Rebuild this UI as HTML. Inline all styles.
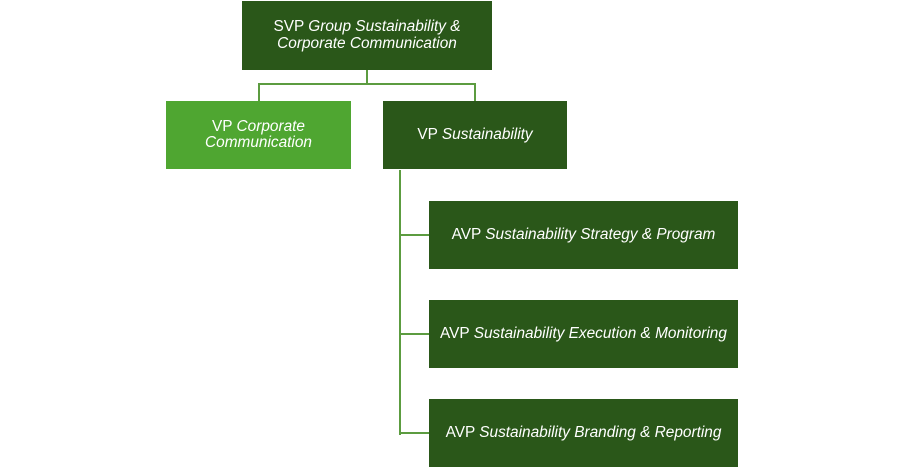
<!DOCTYPE html>
<html>
<head>
<meta charset="utf-8">
<style>
html,body{margin:0;padding:0;background:#fff;}
body{width:903px;height:469px;position:relative;overflow:hidden;font-family:"Liberation Sans",Arial,sans-serif;}
.b{position:absolute;background:#2a5719;color:#fff;display:flex;align-items:center;justify-content:center;text-align:center;font-size:15.4px;line-height:16.5px;}
.l{background:#4fa631;}
i{font-style:italic;}
.ln{position:absolute;background:#5c9c40;}
</style>
</head>
<body>
<div class="b" style="left:242px;top:1px;width:250px;height:69px;"><div>SVP <i>Group Sustainability &amp;<br>Corporate Communication</i></div></div>

<div class="ln" style="left:366px;top:70px;width:2px;height:15px;"></div>
<div class="ln" style="left:258px;top:83px;width:218px;height:2px;"></div>
<div class="ln" style="left:258px;top:83px;width:2px;height:18px;"></div>
<div class="ln" style="left:474px;top:83px;width:2px;height:18px;"></div>

<div class="b l" style="left:166px;top:101px;width:185px;height:68px;"><div>VP <i>Corporate<br>Communication</i></div></div>
<div class="b" style="left:383px;top:101px;width:184px;height:68px;"><div>VP <i>Sustainability</i></div></div>

<div class="ln" style="left:399px;top:170px;width:2px;height:265px;"></div>
<div class="ln" style="left:399px;top:234px;width:30px;height:2px;"></div>
<div class="ln" style="left:399px;top:333px;width:30px;height:2px;"></div>
<div class="ln" style="left:399px;top:432px;width:30px;height:2px;"></div>

<div class="b" style="left:429px;top:201px;width:309px;height:68px;"><div>AVP <i>Sustainability Strategy &amp; Program</i></div></div>
<div class="b" style="left:429px;top:300px;width:309px;height:68px;"><div>AVP <i>Sustainability Execution &amp; Monitoring</i></div></div>
<div class="b" style="left:429px;top:399px;width:309px;height:68px;"><div>AVP <i>Sustainability Branding &amp; Reporting</i></div></div>
</body>
</html>
